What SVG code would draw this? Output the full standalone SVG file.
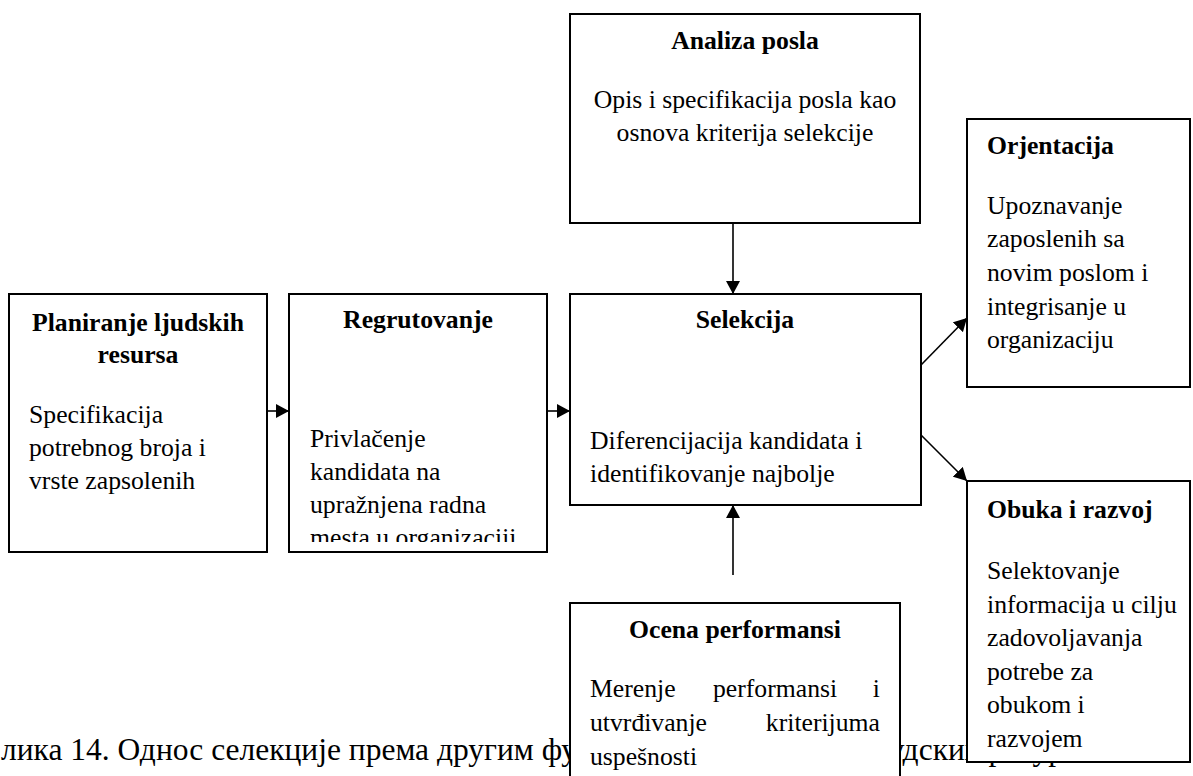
<svg xmlns="http://www.w3.org/2000/svg" width="1193" height="776" viewBox="0 0 1193 776">
  <style>
    text { font-family: "Liberation Serif", "Times New Roman", serif; font-size: 25.7px; fill: #000; }
    .h { font-weight: bold; }
    .c { text-anchor: middle; }
    .cap { font-size: 31.5px; }
    .box { fill: #fff; stroke: #000; stroke-width: 2; }
    .ln { stroke: #000; stroke-width: 1.6; fill: none; }
  </style>
  <defs>
    <marker id="ah" markerUnits="userSpaceOnUse" markerWidth="14" markerHeight="14" refX="13" refY="7" orient="auto">
      <path d="M0,0 L13,7 L0,14 Z" fill="#000"/>
    </marker>
    <clipPath id="clipRegr">
      <rect x="289" y="294" width="258" height="248"/>
    </clipPath>
  </defs>

  <rect width="1193" height="776" fill="#fff"/>

  <!-- figure caption, partly covered by the boxes drawn after it -->
  <text class="cap" x="-20" y="760">Слика 14. Однос селекције према другим функцијама управљања људских ресурса</text>

  <g id="connectors">
    <line class="ln" x1="267" y1="411" x2="289" y2="411" marker-end="url(#ah)"/>
    <line class="ln" x1="547" y1="411" x2="570" y2="411" marker-end="url(#ah)"/>
    <line class="ln" x1="733" y1="223" x2="733" y2="294" marker-end="url(#ah)"/>
    <line class="ln" x1="733" y1="575" x2="733" y2="505" marker-end="url(#ah)"/>
    <line class="ln" x1="921" y1="365" x2="967" y2="318" marker-end="url(#ah)"/>
    <line class="ln" x1="921" y1="435" x2="967" y2="481" marker-end="url(#ah)"/>
  </g>

  <g id="planiranje">
    <rect class="box" x="9" y="294" width="258" height="258"/>
    <text class="h c" x="138" y="331">Planiranje ljudskih</text>
    <text class="h c" x="138" y="363">resursa</text>
    <text x="29" y="423">Specifikacija</text>
    <text x="29" y="456">potrebnog broja i</text>
    <text x="29" y="489">vrste zapsolenih</text>
  </g>

  <g id="regrutovanje">
    <rect class="box" x="289" y="294" width="258" height="258"/>
    <text class="h c" x="418" y="328">Regrutovanje</text>
    <g clip-path="url(#clipRegr)">
      <text x="310" y="447">Privlačenje</text>
      <text x="310" y="480">kandidata na</text>
      <text x="310" y="513">upražnjena radna</text>
      <text x="310" y="546">mesta u organizaciji</text>
    </g>
  </g>

  <g id="analiza">
    <rect class="box" x="570" y="14" width="350" height="209"/>
    <text class="h c" x="745" y="49">Analiza posla</text>
    <text class="c" x="745" y="108">Opis i specifikacija posla kao</text>
    <text class="c" x="745" y="141">osnova kriterija selekcije</text>
  </g>

  <g id="selekcija">
    <rect class="box" x="570" y="294" width="351" height="211"/>
    <text class="h c" x="745" y="328">Selekcija</text>
    <text x="590" y="449">Diferencijacija kandidata i</text>
    <text x="590" y="482">identifikovanje najbolje</text>
  </g>

  <g id="ocena">
    <rect class="box" x="570" y="603" width="330" height="200"/>
    <text class="h c" x="735" y="638">Ocena performansi</text>
    <text x="590" y="697">Merenje</text>
    <text x="713" y="697">performansi</text>
    <text x="880" y="697" text-anchor="end">i</text>
    <text x="590" y="731">utvrđivanje</text>
    <text x="880" y="731" text-anchor="end">kriterijuma</text>
    <text x="590" y="765">uspešnosti</text>
  </g>

  <g id="orjentacija">
    <rect class="box" x="967" y="119" width="223" height="268"/>
    <text class="h" x="987" y="154">Orjentacija</text>
    <text x="987" y="214">Upoznavanje</text>
    <text x="987" y="247">zaposlenih sa</text>
    <text x="987" y="281">novim poslom i</text>
    <text x="987" y="315">integrisanje u</text>
    <text x="987" y="348">organizaciju</text>
  </g>

  <g id="obuka">
    <rect class="box" x="967" y="481" width="223" height="281"/>
    <text class="h" x="987" y="518">Obuka i razvoj</text>
    <text x="987" y="579">Selektovanje</text>
    <text x="987" y="613">informacija u cilju</text>
    <text x="987" y="646">zadovoljavanja</text>
    <text x="987" y="680">potrebe za</text>
    <text x="987" y="713">obukom i</text>
    <text x="987" y="747">razvojem</text>
  </g>
</svg>
